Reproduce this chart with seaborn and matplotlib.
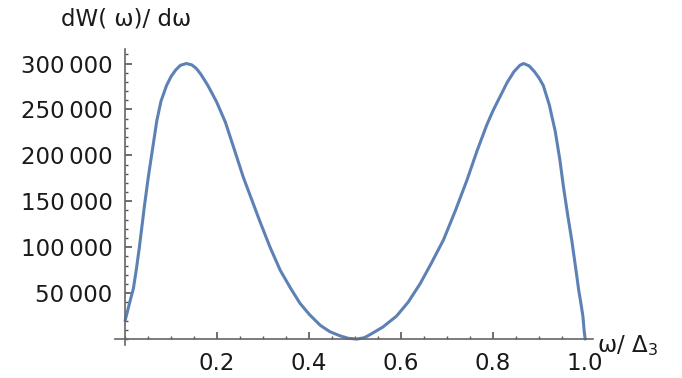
import matplotlib
matplotlib.use("Agg")
import matplotlib.pyplot as plt
from matplotlib.ticker import MultipleLocator, FuncFormatter
import seaborn as sns

# values
omega = [0.000, 0.004, 0.010, 0.018, 0.025, 0.031, 0.042, 0.050, 0.059, 0.069,
         0.078, 0.090, 0.100, 0.110, 0.120, 0.133, 0.145, 0.155, 0.165, 0.180,
         0.199, 0.218, 0.235, 0.257, 0.275, 0.293, 0.315, 0.337, 0.360, 0.380,
         0.400, 0.424, 0.445, 0.467, 0.485, 0.504, 0.520, 0.533, 0.560, 0.590,
         0.615, 0.641, 0.665, 0.692, 0.718, 0.743, 0.765, 0.786, 0.800, 0.815,
         0.830, 0.845, 0.858, 0.866, 0.878, 0.890, 0.900, 0.909, 0.922, 0.935,
         0.945, 0.953, 0.962, 0.971, 0.980, 0.986, 0.991, 0.995, 0.998, 1.000]
dW = [20000, 28000, 40000, 55000, 78000, 100000, 145000, 175000, 205000, 238000,
      259000, 276000, 286000, 293000, 298000, 300000, 298500, 294500, 288000, 276000,
      258000, 236000, 210000, 176000, 152000, 128000, 100000, 75000, 55000, 39000,
      27000, 15000, 8000, 3500, 800, 0, 1500, 5000, 13000, 25000,
      40000, 60000, 82000, 108000, 140000, 173000, 205000, 233000, 249000, 264000,
      279000, 291000, 298000, 300000, 297500, 291000, 284000, 276000, 255000, 226000,
      195000, 165000, 135000, 107000, 75000, 53000, 38000, 25000, 8000, 0]

x_ticks = [0.2, 0.4, 0.6, 0.8, 1.0]
y_ticks = [50000, 100000, 150000, 200000, 250000, 300000]

sns.set_style("white")
plt.rcParams['font.family'] = ['DejaVu Sans']
plt.rcParams['mathtext.fontset'] = 'dejavusans'

fig = plt.figure(figsize=(6.82, 3.78), dpi=100)
ax = fig.add_axes([115 / 682, 1 - 345 / 378, 478 / 682, 296 / 378])

sns.lineplot(x=omega, y=dW, ax=ax, color='#5e81b5', linewidth=2.2, sort=False, estimator=None)

ax.set_xlim(-0.022, 1.017)
ax.set_ylim(-6500, 315800)

for s in ['top', 'right']:
    ax.spines[s].set_visible(False)
ax.spines['left'].set_position(('data', 0))
ax.spines['bottom'].set_position(('data', 0))
for s in ['left', 'bottom']:
    ax.spines[s].set_color('#666666')
    ax.spines[s].set_linewidth(1.2)

ax.set_xticks(x_ticks)
ax.set_xticklabels([f"{v:.1f}" for v in x_ticks])
ax.xaxis.set_minor_locator(MultipleLocator(0.05))
ax.set_yticks(y_ticks)
ax.yaxis.set_major_formatter(FuncFormatter(lambda v, p: f"{int(v):,}".replace(",", "\u2009")))
ax.yaxis.set_minor_locator(MultipleLocator(10000))

ax.tick_params(which='both', direction='in', left=True, bottom=True, color='#555555',
               labelsize=16.5, labelcolor='#1a1a1a')
ax.tick_params(which='major', length=5, width=1.2)
ax.tick_params(which='minor', length=2.5, width=1.0)
ax.tick_params(axis='x', pad=9)
ax.tick_params(axis='y', pad=9)

fig.text(126 / 682, 1 - 19 / 378, "dW( ω)/ dω", ha='center', va='center', fontsize=16.5, color='#1a1a1a')
fig.text(597 / 682, 1 - 346 / 378, r"ω/ $\Delta_3$", ha='left', va='center', fontsize=16.5, color='#1a1a1a')

plt.savefig("out.png", dpi=100)
